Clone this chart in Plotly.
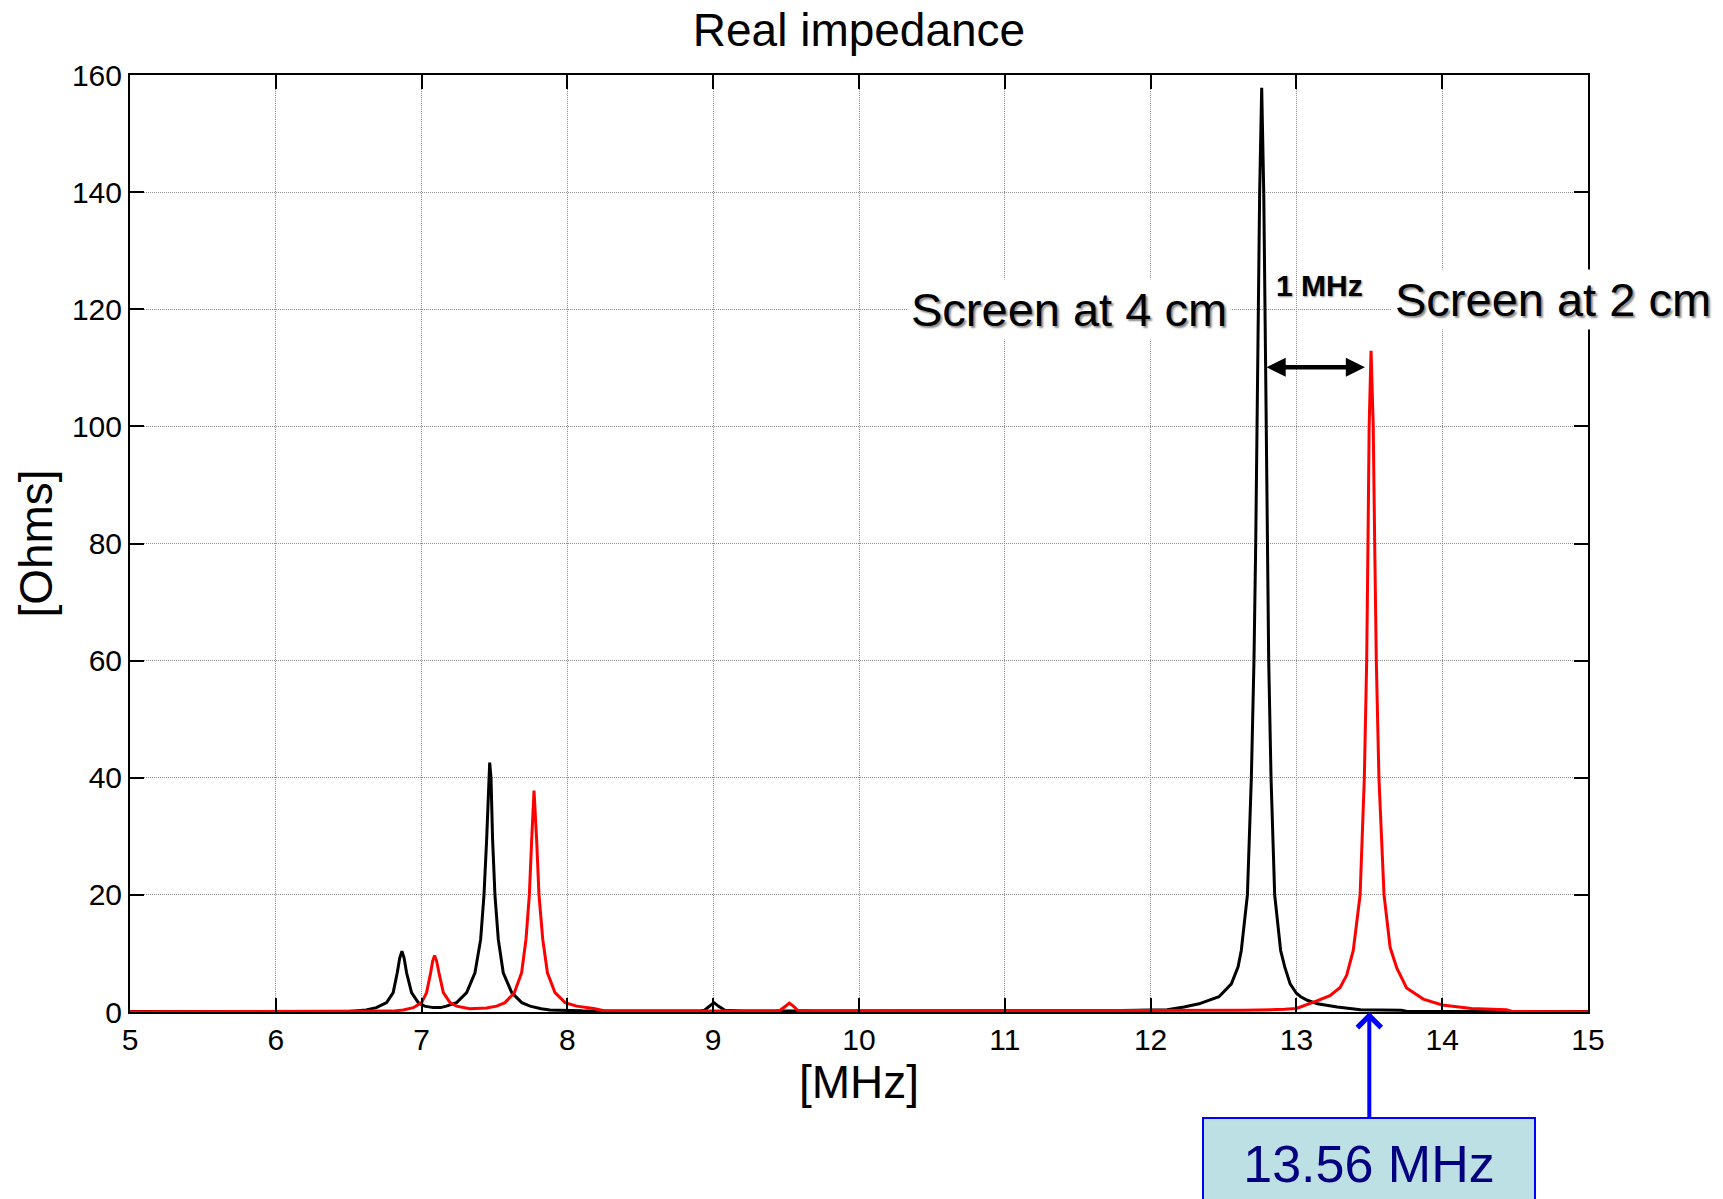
import plotly.graph_objects as go

# ---- data ----
freq_4cm = [5.0, 6.5, 6.62, 6.69, 6.76, 6.805, 6.833, 6.850, 6.865, 6.880, 6.897, 6.931, 6.977, 7.02,
            7.08, 7.13, 7.17, 7.24, 7.309, 7.366, 7.405, 7.428, 7.446, 7.460, 7.467, 7.476, 7.487,
            7.503, 7.526, 7.56, 7.618, 7.687, 7.744, 7.82, 7.88, 8.1, 8.9, 8.94, 8.975, 9.005, 9.035,
            9.08, 9.2, 11.8, 12.114, 12.229, 12.332, 12.469, 12.554, 12.600, 12.622, 12.664, 12.691,
            12.709, 12.721, 12.735, 12.748, 12.762, 12.776, 12.789, 12.803, 12.810, 12.826, 12.851,
            12.892, 12.92, 12.957, 13.0, 13.03, 13.075, 13.144, 13.28, 13.44, 13.72, 13.76, 15.0]
ohm_4cm = [0.1, 0.1, 0.34, 0.74, 1.6, 3.3, 6.7, 9.2, 10.4, 9.2, 6.7, 3.3, 1.6, 1.0,
           0.75, 0.75, 1.0, 1.6, 3.3, 6.7, 12.4, 20.0, 29.4, 40.0, 42.6, 40.0, 29.4,
           20.0, 12.4, 6.7, 3.3, 1.6, 1.0, 0.57, 0.34, 0.2, 0.15, 0.3, 1.0, 1.6, 1.0,
           0.3, 0.15, 0.25, 0.4, 0.85, 1.4, 2.6, 4.8, 7.7, 10.5, 20.0, 40.0,
           60.0, 80.0, 110.0, 140.0, 157.8, 140.0, 110.0, 80.0, 60.0, 40.0, 20.0,
           10.5, 7.7, 4.8, 3.2, 2.6, 2.0, 1.4, 0.85, 0.4, 0.3, 0.1, 0.1]

freq_2cm = [5.0, 6.8, 6.874, 6.943, 7.0, 7.034, 7.062, 7.076, 7.089, 7.103, 7.119, 7.149, 7.195, 7.24,
            7.33, 7.446, 7.515, 7.572, 7.636, 7.686, 7.716, 7.739, 7.755, 7.771, 7.789, 7.805, 7.831,
            7.863, 7.915, 7.984, 8.064, 8.18, 8.25, 9.42, 9.46, 9.495, 9.522, 9.55, 9.58, 9.7,
            12.0, 12.64, 12.92, 13.0, 13.14, 13.23, 13.3, 13.345, 13.39, 13.437, 13.466, 13.482,
            13.491, 13.499, 13.512, 13.527, 13.537, 13.548, 13.566, 13.601, 13.643, 13.689,
            13.756, 13.87, 14.0, 14.2, 14.44, 14.48, 15.0]
ohm_2cm = [0.05, 0.15, 0.34, 0.74, 1.6, 3.3, 6.7, 8.7, 9.66, 8.7, 6.7, 3.3, 1.6, 1.0,
           0.57, 0.7, 1.0, 1.6, 3.3, 6.7, 12.4, 20.0, 29.4, 37.8, 29.4, 20.0, 12.4,
           6.7, 3.3, 1.6, 1.0, 0.6, 0.2, 0.15, 0.3, 1.0, 1.5, 1.0, 0.3, 0.15,
           0.2, 0.3, 0.45, 0.6, 1.9, 2.8, 4.2, 6.3, 10.5, 20.0, 40.0, 60.0,
           80.0, 100.0, 112.9, 100.0, 80.0, 60.0, 40.0, 20.0, 11.0, 7.5,
           4.1, 2.2, 1.2, 0.6, 0.4, 0.1, 0.05]

x_ticks = [5, 6, 7, 8, 9, 10, 11, 12, 13, 14, 15]
y_ticks = [0, 20, 40, 60, 80, 100, 120, 140, 160]

marker_freq = 13.5          # where the blue 13.56 MHz arrow points on the axis
spacing_arrow = [12.785, 13.47]
spacing_level = 110.1

FONT = "Liberation Sans, Arial, sans-serif"

fig = go.Figure()
fig.add_trace(go.Scatter(x=freq_4cm, y=ohm_4cm, mode="lines",
                         line=dict(color="black", width=3), name="Screen at 4 cm"))
fig.add_trace(go.Scatter(x=freq_2cm, y=ohm_2cm, mode="lines",
                         line=dict(color="red", width=3), name="Screen at 2 cm"))

axis_common = dict(
    ticks="inside", ticklen=14, tickwidth=2, tickcolor="black",
    showline=True, linewidth=2, linecolor="black", mirror="ticks",
    showgrid=True, gridcolor="#8c8c8c", gridwidth=1, griddash="1px,1px",
    zeroline=False, tickfont=dict(size=30, color="black"),
)

fig.update_xaxes(range=[5, 15], tickvals=x_ticks, ticktext=[str(t) for t in x_ticks],
                 title=dict(text="[MHz]", font=dict(size=46), standoff=8), **axis_common)
fig.update_yaxes(range=[0, 160], tickvals=y_ticks, ticktext=[str(t) for t in y_ticks],
                 title=dict(text="[Ohms]", font=dict(size=46), standoff=5), **axis_common)

shadow = "2px 2px 2px #8a8a8a"
annotations = [
    dict(x=11.437, y=119.9, xref="x", yref="y", text="Screen at 4 cm", showarrow=False,
         font=dict(size=47, color="black", shadow=shadow), bgcolor="white", borderpad=3),
    dict(x=14.763, y=121.75, xref="x", yref="y", text="Screen at 2 cm", showarrow=False,
         font=dict(size=47, color="black", shadow=shadow), bgcolor="white", borderpad=3),
    dict(x=13.155, y=124.0, xref="x", yref="y", text="<b>1 MHz</b>", showarrow=False,
         font=dict(size=30, color="black", shadow="1px 1px 2px #8a8a8a")),
    dict(x=spacing_arrow[1], y=spacing_level, ax=spacing_arrow[0], ay=spacing_level,
         xref="x", yref="y", axref="x", ayref="y", text="", showarrow=True,
         arrowhead=2, startarrowhead=2, arrowside="end+start", arrowsize=0.85,
         startarrowsize=0.85, arrowwidth=4.5, arrowcolor="black", standoff=0, startstandoff=0),
    dict(x=marker_freq, y=0, xref="x", yref="y", text="13.56 MHz", showarrow=True,
         arrowhead=4, arrowsize=1.15, arrowwidth=4, arrowcolor="#0000FF",
         ax=0, ay=152, font=dict(size=52, color="#000080"),
         bgcolor="#BDE0E4", bordercolor="#0000FF", borderwidth=2, borderpad=5,
         width=320, height=80, standoff=0),
]

fig.update_layout(
    width=1723, height=1199,
    margin=dict(l=130, r=135, t=75, b=187, autoexpand=False),
    plot_bgcolor="white", paper_bgcolor="white", showlegend=False,
    font=dict(family=FONT, color="black"),
    title=dict(text="Real impedance", font=dict(size=46, color="black"),
               x=0.5, xref="paper", xanchor="center",
               y=1 - 30 / 1199, yref="container", yanchor="middle"),
    annotations=annotations,
)

fig.write_html("out.html")
